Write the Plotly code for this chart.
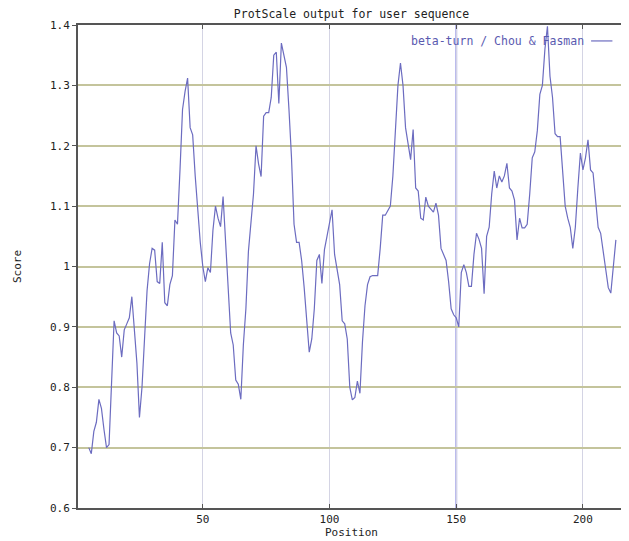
import plotly.graph_objects as go

# Positions (window centre) and beta-turn scores
positions = list(range(5, 214))
scores = [
    0.700, 0.690, 0.727, 0.742, 0.780, 0.765, 0.730, 0.700, 0.705, 0.800,   # 5-14
    0.910, 0.890, 0.885, 0.850, 0.895, 0.905, 0.915, 0.950, 0.895, 0.840,   # 15-24
    0.750, 0.800, 0.880, 0.960, 1.005, 1.030, 1.027, 0.975, 0.972, 1.040,   # 25-34
    0.940, 0.935, 0.970, 0.985, 1.077, 1.070, 1.160, 1.260, 1.290, 1.312,   # 35-44
    1.230, 1.218, 1.150, 1.088, 1.040, 1.000, 0.975, 0.998, 0.990, 1.060,   # 45-54
    1.100, 1.080, 1.066, 1.116, 1.045, 0.980, 0.890, 0.870, 0.812, 0.805,   # 55-64
    0.780, 0.870, 0.930, 1.025, 1.080, 1.120, 1.200, 1.170, 1.149, 1.249,   # 65-74
    1.255, 1.255, 1.280, 1.350, 1.355, 1.270, 1.370, 1.350, 1.330, 1.260,   # 75-84
    1.180, 1.070, 1.040, 1.040, 1.010, 0.965, 0.915, 0.858, 0.880, 0.930,   # 85-94
    1.010, 1.020, 0.972, 1.028, 1.050, 1.075, 1.094, 1.020, 0.997, 0.970,   # 95-104
    0.910, 0.905, 0.880, 0.800, 0.779, 0.783, 0.810, 0.790, 0.875, 0.935,   # 105-114
    0.970, 0.983, 0.985, 0.985, 0.985, 1.030, 1.085, 1.085, 1.092, 1.100,   # 115-124
    1.150, 1.235, 1.300, 1.337, 1.300, 1.230, 1.205, 1.177, 1.227, 1.130,   # 125-134
    1.125, 1.080, 1.077, 1.115, 1.100, 1.095, 1.090, 1.105, 1.085, 1.030,   # 135-144
    1.020, 1.010, 0.975, 0.930, 0.920, 0.915, 0.900, 0.990, 1.003, 0.990,   # 145-154
    0.967, 0.967, 1.020, 1.055, 1.045, 1.030, 0.955, 1.050, 1.065, 1.120,   # 155-164
    1.158, 1.130, 1.150, 1.140, 1.150, 1.171, 1.130, 1.125, 1.110, 1.044,   # 165-174
    1.080, 1.064, 1.064, 1.070, 1.120, 1.180, 1.190, 1.225, 1.285, 1.300,   # 175-184
    1.360, 1.398, 1.315, 1.280, 1.220, 1.215, 1.215, 1.150, 1.100, 1.080,   # 185-194
    1.065, 1.030, 1.065, 1.130, 1.188, 1.160, 1.180, 1.210, 1.160, 1.155,   # 195-204
    1.110, 1.065, 1.055, 1.020, 0.995, 0.965, 0.956, 1.000, 1.044,          # 205-213
]

x_ticks = [50, 100, 150, 200]
y_ticks = [0.6, 0.7, 0.8, 0.9, 1.0, 1.1, 1.2, 1.3, 1.4]
y_tick_labels = ["0.6", "0.7", "0.8", "0.9", "1", "1.1", "1.2", "1.3", "1.4"]
highlight_pos = 150

title_text = "ProtScale output for user sequence"
legend_text = "beta-turn / Chou &amp; Fasman"

MONO = "DejaVu Sans Mono"
LINE_COLOR = "#6c6cc0"

fig = go.Figure()
fig.add_trace(go.Scatter(
    x=positions, y=scores, mode="lines",
    line=dict(color=LINE_COLOR, width=1.2),
    showlegend=False, hoverinfo="skip",
))

# highlighted vertical grid line (bluish) at 150
fig.add_shape(type="line", xref="x", yref="paper", x0=highlight_pos, x1=highlight_pos,
              y0=0, y1=1, line=dict(color="#a8a8e8", width=2), layer="below")

# legend: text + line sample at top right
fig.add_annotation(text=legend_text, xref="paper", yref="paper", x=0.929, y=0.967,
                   xanchor="right", yanchor="middle", showarrow=False,
                   font=dict(family=MONO, size=11.5, color="#5a5ab0"))
fig.add_shape(type="line", xref="paper", yref="paper", x0=0.938, x1=0.977,
              y0=0.967, y1=0.967, line=dict(color=LINE_COLOR, width=1.2))

fig.update_layout(
    width=627, height=533,
    margin=dict(l=70, r=4, t=17, b=33),
    paper_bgcolor="white", plot_bgcolor="white",
    title=dict(text=title_text, x=0.5, xref="paper", xanchor="center",
               y=0.989, yanchor="middle",
               font=dict(family=MONO, size=11.5, color="#222222")),
    font=dict(family=MONO, size=11, color="#222222"),
)
fig.update_xaxes(
    range=[0.75, 216.6], tickvals=x_ticks, ticktext=[str(v) for v in x_ticks],
    showgrid=True, gridcolor="#d4d4e4", gridwidth=1,
    showline=True, linecolor="#555555", linewidth=2, mirror="ticks",
    ticks="inside", ticklen=4, tickcolor="#555555", zeroline=False,
    title=dict(text="Position", standoff=2, font=dict(family=MONO, size=11)),
)
fig.update_yaxes(
    range=[0.6, 1.4], tickvals=y_ticks, ticktext=y_tick_labels,
    showgrid=True, gridcolor="#c4c49c", gridwidth=1.5,
    showline=True, linecolor="#555555", linewidth=2, mirror="ticks",
    ticks="outside", ticklen=4, tickcolor="#555555", zeroline=False,
    title=dict(text="Score", standoff=26, font=dict(family=MONO, size=11)),
)

fig.write_html("out.html")
